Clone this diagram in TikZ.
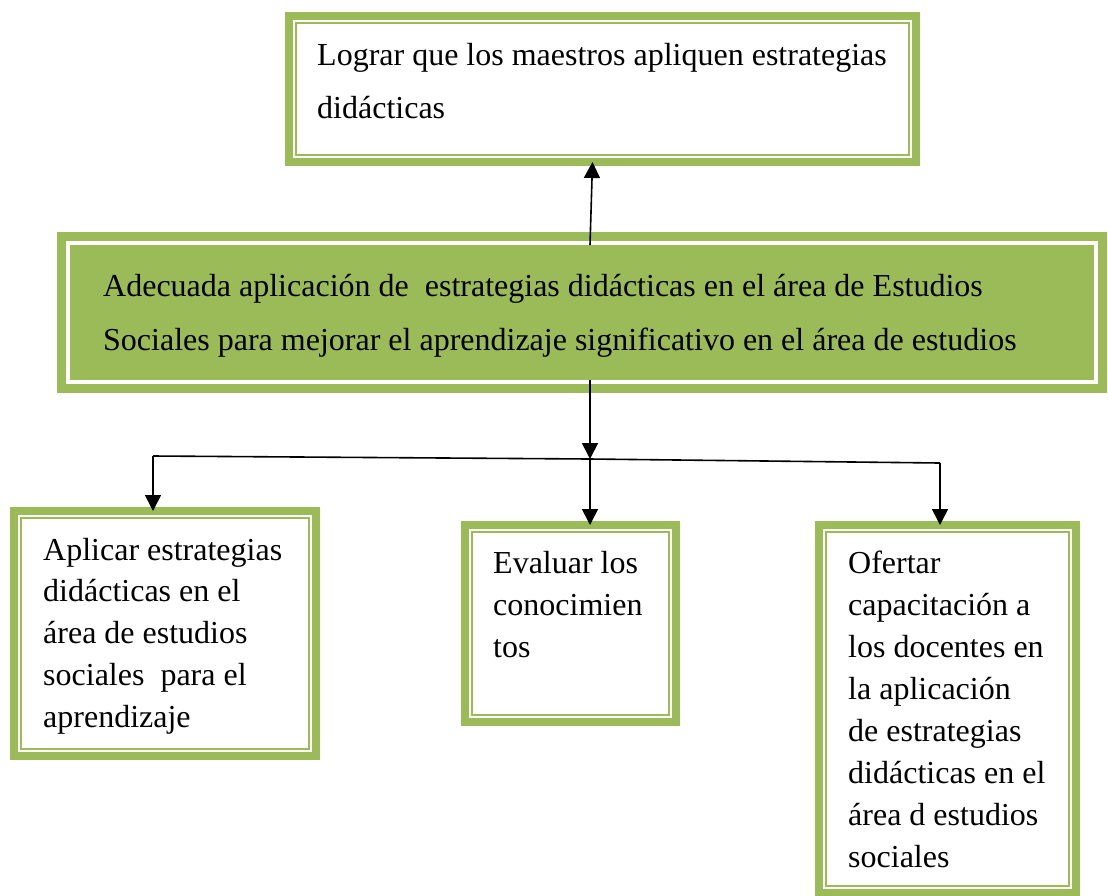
\documentclass[tikz,border=0pt]{standalone}
\usepackage{fontspec}
\setmainfont{Liberation Serif}
\usetikzlibrary{arrows.meta}
\definecolor{olivegreen}{HTML}{9BBB59}
\begin{document}
\begin{tikzpicture}[x=1pt,y=-1pt,
  framebox/.style={draw=olivegreen,line width=8pt,inner sep=0pt,outer sep=0pt,anchor=north west,
    path picture={\draw[olivegreen,line width=2pt] ([shift={(7pt,-7pt)}]path picture bounding box.north west) rectangle ([shift={(-7pt,7pt)}]path picture bounding box.south east);}},
  mainbox/.style={draw=olivegreen,fill=olivegreen,line width=8pt,inner sep=0pt,outer sep=0pt,anchor=north west,
    path picture={\draw[white,line width=3.5pt] ([shift={(7pt,-7pt)}]path picture bounding box.north west) rectangle ([shift={(-7pt,7pt)}]path picture bounding box.south east);}},
  txt/.style={anchor=base west,inner sep=0pt,font=\fontsize{32}{42}\selectfont},
  conn/.style={line width=1.6pt,black},
  arr/.style={conn,-{Triangle[length=16pt,width=16pt]}}]
\useasboundingbox (0,0) rectangle (1108,895);

% boxes
\node[framebox,minimum width=627pt,minimum height=146pt] (goal) at (289,16) {};
\node[mainbox,minimum width=1042pt,minimum height=153pt] (main) at (61,236) {};
\node[framebox,minimum width=302pt,minimum height=245pt] (apl) at (14,511) {};
\node[framebox,minimum width=211pt,minimum height=197pt] (eva) at (465,525) {};
\node[framebox,minimum width=257pt,minimum height=368pt] (ofe) at (819,525) {};

% texts
\node[txt] (tgoal) at (317,65) {\vtop{\baselineskip=53pt\hbox{Lograr que los maestros apliquen estrategias}\hbox{didácticas}}};
\node[txt] (tmain) at (103,296) {\vtop{\baselineskip=54pt\hbox{Adecuada aplicación de\ \ estrategias didácticas en el área de Estudios}\hbox{Sociales para mejorar el aprendizaje significativo en el área de estudios}}};
\node[txt] (tapl) at (43,560) {\vtop{\baselineskip=41.8pt\hbox{Aplicar estrategias}\hbox{didácticas en el}\hbox{área de estudios}\hbox{sociales\ \ para el}\hbox{aprendizaje}}};
\node[txt] (teva) at (493,573) {\vtop{\baselineskip=42pt\hbox{Evaluar los}\hbox{conocimien}\hbox{tos}}};
\node[txt] (tofe) at (848,573) {\vtop{\baselineskip=42pt\hbox{Ofertar}\hbox{capacitación a}\hbox{los docentes en}\hbox{la aplicación}\hbox{de estrategias}\hbox{didácticas en el}\hbox{área d estudios}\hbox{sociales}}};

% connectors
\coordinate (mtop) at (590,245);
\coordinate (mbot) at (590,380);
\coordinate (hl) at (153,456);
\coordinate (hm) at (590,459);
\coordinate (hr) at (940,463);
\draw[arr] (mtop) -- ([xshift=-10pt]goal.south);
\draw[arr] (mbot) -- (hm);
\draw[conn] (hl) -- (hm) -- (hr);
\draw[arr] (hl) -- (apl.north -| hl);
\draw[arr] (hm) -- (eva.north -| hm);
\draw[arr] (hr) -- (ofe.north -| hr);
\end{tikzpicture}
\end{document}
